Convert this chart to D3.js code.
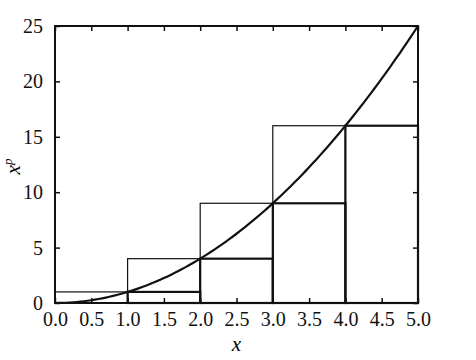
<!DOCTYPE html>
<html>
<head>
<meta charset="utf-8">
<script src="https://cdn.jsdelivr.net/npm/d3@7"></script>
<style>
  body { margin: 0; background: #fff; }
</style>
</head>
<body>
<div id="chart"></div>
<script>
// data: curve sample points, upper and lower step sums
const curveX = d3.range(0, 5.001, 0.05);
const upperLeft = [0, 1, 2, 3];
const upperHeight = [1, 4, 9, 16];
const lowerLeft = [1, 2, 3, 4];
const lowerHeight = [1, 4, 9, 16];
const xTickLabels = ["0.0", "0.5", "1.0", "1.5", "2.0", "2.5", "3.0", "3.5", "4.0", "4.5", "5.0"];
const yTickValues = [0, 5, 10, 15, 20, 25];

const serif = "'Liberation Serif', 'Times New Roman', 'DejaVu Serif', serif";
const width = 476, height = 360;
const margin = { left: 55, right: 58, top: 26, bottom: 57 };

const svg = d3.select("#chart").append("svg")
  .attr("width", width).attr("height", height);

const x = d3.scaleLinear().domain([0, 5]).range([margin.left, width - margin.right]);
const y = d3.scaleLinear().domain([0, 25]).range([height - margin.bottom, margin.top]);

// upper (thin) rectangles
svg.append("g").selectAll("rect")
  .data(upperLeft)
  .join("rect")
  .attr("x", d => x(d))
  .attr("y", (d, i) => y(upperHeight[i]))
  .attr("width", d => x(d + 1) - x(d))
  .attr("height", (d, i) => y(0) - y(upperHeight[i]))
  .attr("fill", "none")
  .attr("stroke", "#111")
  .attr("stroke-width", 1.2);

// lower (thick) rectangles
svg.append("g").selectAll("rect")
  .data(lowerLeft)
  .join("rect")
  .attr("x", d => x(d))
  .attr("y", (d, i) => y(lowerHeight[i]))
  .attr("width", d => x(d + 1) - x(d))
  .attr("height", (d, i) => y(0) - y(lowerHeight[i]))
  .attr("fill", "none")
  .attr("stroke", "#111")
  .attr("stroke-width", 2.2);

// curve x^2
const line = d3.line()
  .x(d => x(d))
  .y(d => y(d * d));

svg.append("path")
  .datum(curveX)
  .attr("d", line)
  .attr("fill", "none")
  .attr("stroke", "#111")
  .attr("stroke-width", 2.2);

// frame
svg.append("rect")
  .attr("x", x(0)).attr("y", y(25))
  .attr("width", x(5) - x(0)).attr("height", y(0) - y(25))
  .attr("fill", "none")
  .attr("stroke", "#111")
  .attr("stroke-width", 2);

// axes with inward ticks
const xTicks = d3.range(0, 5.001, 0.5);
const bottomAxis = d3.axisBottom(x).tickValues(xTicks)
  .tickFormat((d, i) => xTickLabels[i]).tickSizeInner(-5).tickSizeOuter(0).tickPadding(9);
const gb = svg.append("g").attr("transform", `translate(0,${y(0)})`).call(bottomAxis);
gb.attr("font-family", serif);
gb.select(".domain").remove();
gb.selectAll("line").attr("stroke", "#111").attr("stroke-width", 1.5);
gb.selectAll("text").style("font-size", "20px").style("font-family", serif).attr("fill", "#111");

const gt = svg.append("g").attr("transform", `translate(0,${y(25)})`)
  .call(d3.axisTop(x).tickValues(xTicks).tickFormat("").tickSizeInner(-5).tickSizeOuter(0));
gt.select(".domain").remove();
gt.selectAll("line").attr("stroke", "#111").attr("stroke-width", 1.5);

const leftAxis = d3.axisLeft(y).tickValues(yTickValues)
  .tickSizeInner(-5).tickSizeOuter(0).tickPadding(12);
const gl = svg.append("g").attr("transform", `translate(${x(0)},0)`).call(leftAxis);
gl.attr("font-family", serif);
gl.select(".domain").remove();
gl.selectAll("line").attr("stroke", "#111").attr("stroke-width", 1.5);
gl.selectAll("text").style("font-size", "20px").style("font-family", serif).attr("fill", "#111");

const gr = svg.append("g").attr("transform", `translate(${x(5)},0)`)
  .call(d3.axisRight(y).tickValues(yTickValues).tickFormat("").tickSizeInner(-5).tickSizeOuter(0));
gr.select(".domain").remove();
gr.selectAll("line").attr("stroke", "#111").attr("stroke-width", 1.5);

// axis titles
svg.append("text")
  .attr("x", (x(0) + x(5)) / 2).attr("y", 351)
  .attr("text-anchor", "middle")
  .style("font-family", serif)
  .style("font-size", "21px").style("font-style", "italic")
  .text("x");

const yl = svg.append("text")
  .attr("transform", `translate(20,${(y(0) + y(25)) / 2 + 2}) rotate(-90)`)
  .attr("text-anchor", "middle")
  .style("font-family", serif)
  .style("font-size", "21px").style("font-style", "italic");
yl.append("tspan").text("x");
yl.append("tspan").attr("dy", -8).style("font-size", "13px").text("p");
</script>
</body>
</html>
